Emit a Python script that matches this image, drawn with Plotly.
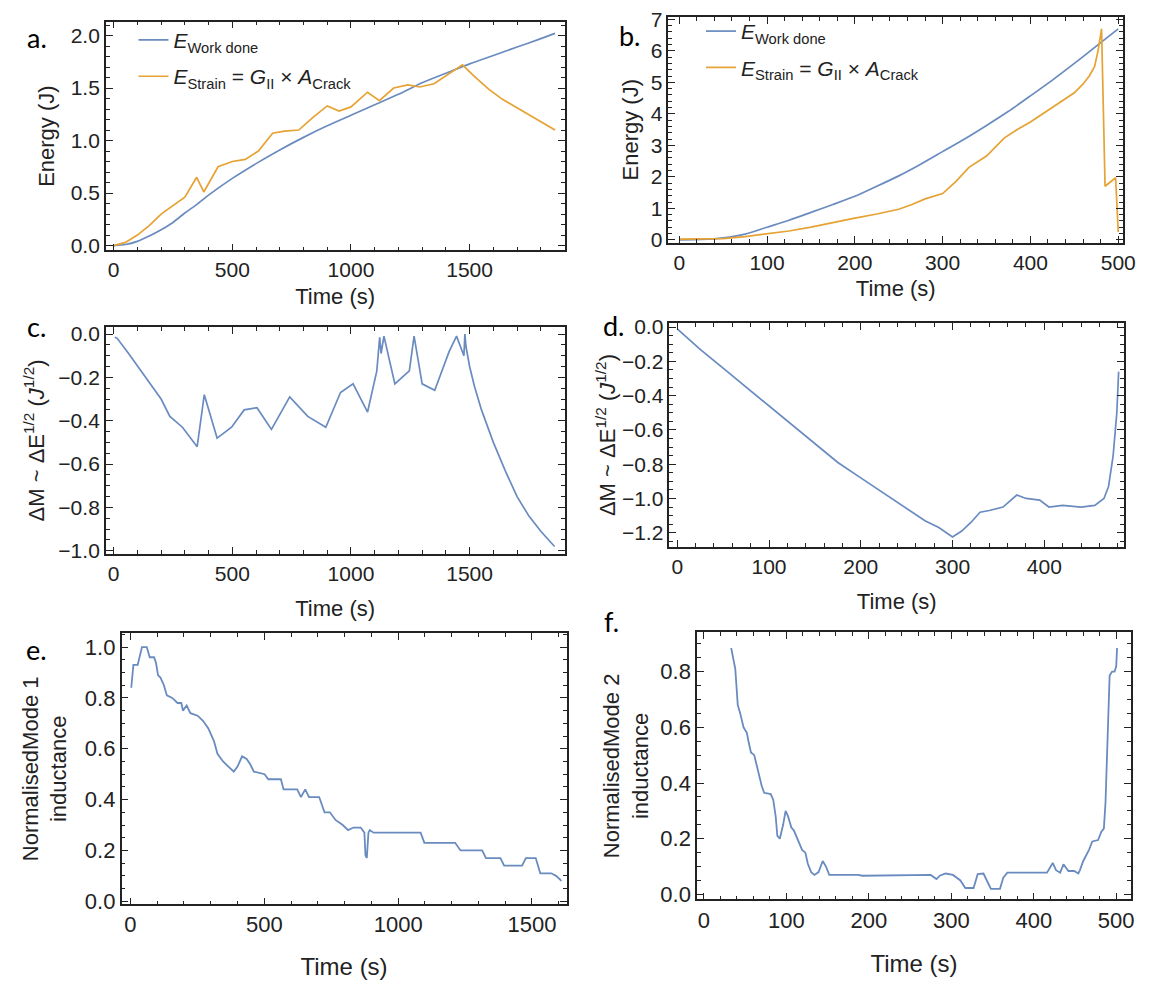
import plotly.graph_objects as go

# ---------------- data ----------------
# panel a
a_t_work = [0, 50, 100, 150, 200, 250, 300, 350, 400, 500, 600, 700, 800, 900, 1000,
            1100, 1200, 1300, 1400, 1500, 1600, 1700, 1800, 1860]
a_e_work = [0.0, 0.01, 0.04, 0.09, 0.15, 0.22, 0.31, 0.39, 0.48, 0.64, 0.78, 0.91, 1.03,
            1.14, 1.24, 1.34, 1.44, 1.55, 1.64, 1.73, 1.81, 1.89, 1.97, 2.02]
a_t_strain = [0, 50, 100, 150, 200, 250, 300, 350, 380, 440, 500, 555, 610, 670, 720, 780,
              840, 900, 950, 1000, 1070, 1120, 1180, 1240, 1290, 1350, 1420, 1470, 1520,
              1580, 1640, 1700, 1760, 1820, 1860]
a_e_strain = [0.0, 0.03, 0.1, 0.19, 0.3, 0.38, 0.46, 0.65, 0.51, 0.75, 0.8, 0.82, 0.9, 1.07,
              1.09, 1.1, 1.22, 1.33, 1.28, 1.32, 1.46, 1.38, 1.5, 1.53, 1.51, 1.54, 1.65,
              1.72, 1.61, 1.49, 1.39, 1.31, 1.23, 1.15, 1.1]

# panel b
b_t_work = [0, 25, 50, 75, 100, 125, 150, 175, 200, 225, 250, 275, 300, 325, 350, 375,
            400, 425, 450, 475, 500]
b_e_work = [0.0, 0.01, 0.06, 0.18, 0.4, 0.62, 0.87, 1.12, 1.38, 1.7, 2.03, 2.4, 2.8, 3.2,
            3.63, 4.08, 4.57, 5.07, 5.6, 6.15, 6.7]
b_t_strain = [0, 25, 50, 75, 100, 125, 150, 175, 200, 225, 250, 265, 280, 300, 315, 330,
              350, 370, 385, 400, 415, 430, 450, 460, 467, 473, 477, 481, 485, 497, 500]
b_e_strain = [0.02, 0.02, 0.04, 0.1, 0.18, 0.28, 0.4, 0.55, 0.69, 0.82, 0.97, 1.12, 1.3,
              1.47, 1.85, 2.3, 2.66, 3.23, 3.5, 3.74, 4.02, 4.31, 4.67, 4.95, 5.2, 5.5,
              6.0, 6.7, 1.7, 1.97, 0.25]

# panel c
c_t = [5, 15, 60, 110, 160, 200, 237, 260, 290, 352, 382, 436, 497, 550, 604, 665, 742,
       818, 894, 956, 1009, 1070, 1109, 1121, 1127, 1139, 1185, 1246, 1266, 1300, 1353,
       1414, 1445, 1476, 1480, 1485, 1500, 1520, 1550, 1600, 1650, 1700, 1750, 1800, 1858]
c_dm = [-0.015, -0.02, -0.085, -0.16, -0.235, -0.3, -0.38, -0.4, -0.43, -0.52, -0.28, -0.48,
        -0.43, -0.35, -0.34, -0.44, -0.29, -0.38, -0.43, -0.27, -0.23, -0.36, -0.17, -0.015,
        -0.09, -0.01, -0.23, -0.17, -0.01, -0.23, -0.26, -0.08, -0.01, -0.1, 0.0, -0.06,
        -0.15, -0.24, -0.35, -0.5, -0.63, -0.75, -0.84, -0.91, -0.98]

# panel d
d_t = [0, 25, 50, 75, 100, 125, 150, 175, 200, 225, 250, 270, 285, 300, 310, 320, 330,
       340, 355, 370, 380, 395, 405, 420, 440, 455, 465, 470, 475, 479, 481]
d_dm = [-0.01, -0.13, -0.24, -0.35, -0.46, -0.57, -0.68, -0.79, -0.88, -0.97, -1.06,
        -1.13, -1.17, -1.225, -1.19, -1.14, -1.08, -1.07, -1.05, -0.98, -1.0, -1.01,
        -1.05, -1.04, -1.05, -1.04, -1.0, -0.93, -0.75, -0.5, -0.26]

# panel e
e_t = [3, 11, 27, 43, 61, 72, 88, 95, 103, 112, 125, 136, 156, 176, 190, 196, 210, 224,
       251, 271, 291, 312, 325, 346, 366, 386, 400, 417, 434, 447, 461, 501, 515, 562, 572,
       623, 637, 653, 667, 705, 725, 745, 766, 793, 813, 833, 860, 874, 878, 883, 889, 894,
       908, 1084, 1098, 1213, 1233, 1314, 1328, 1382, 1396, 1463, 1477, 1514, 1531, 1572,
       1590, 1610]
e_ind = [0.84, 0.93, 0.93, 1.0, 1.0, 0.96, 0.96, 0.94, 0.89, 0.88, 0.85, 0.81, 0.8, 0.78,
         0.78, 0.75, 0.77, 0.74, 0.73, 0.71, 0.68, 0.63, 0.58, 0.55, 0.53, 0.51, 0.53, 0.57,
         0.56, 0.54, 0.51, 0.50, 0.48, 0.48, 0.44, 0.44, 0.41, 0.44, 0.41, 0.41, 0.35, 0.35,
         0.32, 0.30, 0.28, 0.29, 0.29, 0.27, 0.18, 0.17, 0.27, 0.28, 0.27, 0.27, 0.23, 0.23,
         0.20, 0.20, 0.17, 0.17, 0.14, 0.14, 0.17, 0.17, 0.11, 0.11, 0.10, 0.08]

# panel f
f_t = [33, 38, 41, 44, 48, 52, 54, 57, 61, 64, 67, 70, 73, 81, 84, 87, 89, 92, 96, 99,
       102, 106, 109, 113, 119, 123, 126, 130, 134, 139, 144, 148, 152, 187, 192, 275, 282,
       286, 293, 302, 311, 317, 327, 332, 339, 346, 348, 359, 363, 368, 416, 423, 427, 432,
       436, 442, 449, 454, 456, 460, 463, 467, 471, 478, 482, 485, 487, 490, 492, 495, 498,
       500, 501]
f_ind = [0.885, 0.81, 0.68, 0.65, 0.6, 0.58, 0.55, 0.51, 0.5, 0.46, 0.42, 0.39, 0.365,
         0.36, 0.34, 0.28, 0.21, 0.2, 0.25, 0.3, 0.28, 0.24, 0.23, 0.2, 0.16, 0.15, 0.11,
         0.08, 0.07, 0.08, 0.12, 0.1, 0.07, 0.07, 0.067, 0.07, 0.055, 0.067, 0.075, 0.07,
         0.05, 0.023, 0.023, 0.073, 0.075, 0.032, 0.02, 0.02, 0.06, 0.078, 0.078, 0.113,
         0.087, 0.078, 0.108, 0.084, 0.084, 0.075, 0.087, 0.12, 0.137, 0.16, 0.19, 0.195,
         0.225, 0.236, 0.33, 0.62, 0.786, 0.8, 0.8, 0.82, 0.885]

panel_labels = ["a.", "b.", "c.", "d.", "e.", "f."]
name_work = "<i>E</i><sub>Work done</sub>"
name_strain = "<i>E</i><sub>Strain</sub> = <i>G</i><sub>II</sub> × <i>A</i><sub>Crack</sub>"
title_time = "Time (s)"
title_energy = "Energy (J)"
title_dm = "ΔM ~ ΔE<sup>1/2</sup> (<i>J</i><sup>1/2</sup>)"
title_m1 = "NormalisedMode 1<br>inductance"
title_m2 = "NormalisedMode 2<br>inductance"

# ---------------- style ----------------
BLUE = "#6A8BC0"
ORANGE = "#E6A232"
FONT = "Liberation Sans, Arial, sans-serif"
W, H = 1150, 985
TXT = "#222222"
FRAME = "#222222"


def hx(px):
    return px / W


def vy(px):
    return 1 - px / H


fig = go.Figure()

fig.add_trace(go.Scatter(x=a_t_work, y=a_e_work, mode="lines", name=name_work,
                         legendgroup="aw",
                         line=dict(color=BLUE, width=1.7, shape="spline", smoothing=0.6),
                         xaxis="x", yaxis="y", legend="legend"))
fig.add_trace(go.Scatter(x=a_t_strain, y=a_e_strain, mode="lines", name=name_strain,
                         legendgroup="as",
                         line=dict(color=ORANGE, width=1.7),
                         xaxis="x", yaxis="y", legend="legend"))
fig.add_trace(go.Scatter(x=b_t_work, y=b_e_work, mode="lines", name=name_work,
                         legendgroup="bw",
                         line=dict(color=BLUE, width=1.7, shape="spline", smoothing=0.6),
                         xaxis="x2", yaxis="y2", legend="legend2"))
fig.add_trace(go.Scatter(x=b_t_strain, y=b_e_strain, mode="lines", name=name_strain,
                         legendgroup="bs",
                         line=dict(color=ORANGE, width=1.7),
                         xaxis="x2", yaxis="y2", legend="legend2"))
fig.add_trace(go.Scatter(x=c_t, y=c_dm, mode="lines", showlegend=False,
                         line=dict(color=BLUE, width=1.7), xaxis="x3", yaxis="y3"))
fig.add_trace(go.Scatter(x=d_t, y=d_dm, mode="lines", showlegend=False,
                         line=dict(color=BLUE, width=1.7), xaxis="x4", yaxis="y4"))
fig.add_trace(go.Scatter(x=e_t, y=e_ind, mode="lines", showlegend=False,
                         line=dict(color=BLUE, width=1.8), xaxis="x5", yaxis="y5"))
fig.add_trace(go.Scatter(x=f_t, y=f_ind, mode="lines", showlegend=False,
                         line=dict(color=BLUE, width=1.8), xaxis="x6", yaxis="y6"))


def axis(domain, rng, dtick, minor_dtick, anchor, title, fs_tick, fs_title, standoff,
         fmt=None):
    d = dict(domain=domain, range=rng, anchor=anchor, tick0=0, dtick=dtick,
             ticks="inside", ticklen=7, tickwidth=1, tickcolor=FRAME,
             showline=True, linecolor=FRAME, linewidth=1.5, mirror="ticks",
             showgrid=False, zeroline=False,
             minor=dict(dtick=minor_dtick, ticks="inside", ticklen=4,
                        tickwidth=1, tickcolor=FRAME, showgrid=False),
             tickfont=dict(family=FONT, size=fs_tick, color=TXT),
             title=dict(text=title, font=dict(family=FONT, size=fs_title, color=TXT),
                        standoff=standoff))
    if fmt:
        d["tickformat"] = fmt
    return d


# frame pixel boxes: (left, right, top, bottom)
box_a = (107, 571, 14, 247)
box_b = (676, 1136, 9, 239)
box_c = (107, 571, 325, 556)
box_d = (677, 1137, 321, 549)
box_e = (123, 573, 637, 913)
box_f = (705, 1144, 636, 908)


def xd(b):
    return [hx(b[0]), hx(b[1])]


def yd(b):
    return [vy(b[3]), vy(b[2])]


legend_common = dict(xanchor="left", yanchor="top", bgcolor="rgba(0,0,0,0)",
                     font=dict(family=FONT, size=21, color=TXT),
                     traceorder="grouped", tracegroupgap=6, itemwidth=30)

layout = dict(
    template="simple_white",
    width=W, height=H,
    margin=dict(l=0, r=0, t=0, b=0),
    paper_bgcolor="white", plot_bgcolor="white",
    font=dict(family=FONT, color=TXT),
    xaxis=axis(xd(box_a), [-33, 1900], 500, 100, "y", title_time, 21, 22, 8),
    yaxis=axis(yd(box_a), [-0.047, 2.131], 0.5, 0.1, "x", title_energy, 21, 22, 10, ".1f"),
    xaxis2=axis(xd(box_b), [-12.4, 505.6], 100, 20, "y2", title_time, 21, 22, 8),
    yaxis2=axis(yd(box_b), [-0.09, 7.08], 1, 0.2, "x2", title_energy, 21, 22, 6),
    xaxis3=axis(xd(box_c), [-33, 1900], 500, 100, "y3", title_time, 21, 22, 17),
    yaxis3=axis(yd(box_c), [-1.014, 0.032], 0.2, 0.05, "x3", title_dm, 21, 22, 8, ".1f"),
    xaxis4=axis(xd(box_d), [-8.6, 487], 100, 20, "y4", title_time, 21, 22, 17),
    yaxis4=axis(yd(box_d), [-1.283, 0.023], 0.2, 0.05, "x4", title_dm, 21, 22, 0, ".1f"),
    xaxis5=axis(xd(box_e), [-33, 1629], 500, 100, "y5", title_time, 22, 24, 22),
    yaxis5=axis(yd(box_e), [-0.012, 1.054], 0.2, 0.05, "x5", title_m1, 22, 22, 12, ".1f"),
    xaxis6=axis(xd(box_f), [-8.4, 518], 100, 20, "y6", title_time, 22, 24, 24),
    yaxis6=axis(yd(box_f), [-0.018, 0.941], 0.2, 0.05, "x6", title_m2, 22, 22, 6, ".1f"),
    legend=dict(x=hx(135), y=vy(12), **legend_common),
    legend2=dict(x=hx(709), y=vy(3), **legend_common),
)
fig.update_layout(**layout)

label_pos = [(37, 30), (637, 28), (37, 324), (621, 323), (37, 653), (618, 625)]
for txt, (px, py) in zip(panel_labels, label_pos):
    fig.add_annotation(x=hx(px), y=vy(py), xref="paper", yref="paper", text=txt,
                       showarrow=False, xanchor="center", yanchor="middle",
                       font=dict(family="Lato, Open Sans, sans-serif", size=27, color="black"))

fig.write_html("out.html", config={"displayModeBar": False},
               post_script="document.body.style.margin='0';")
